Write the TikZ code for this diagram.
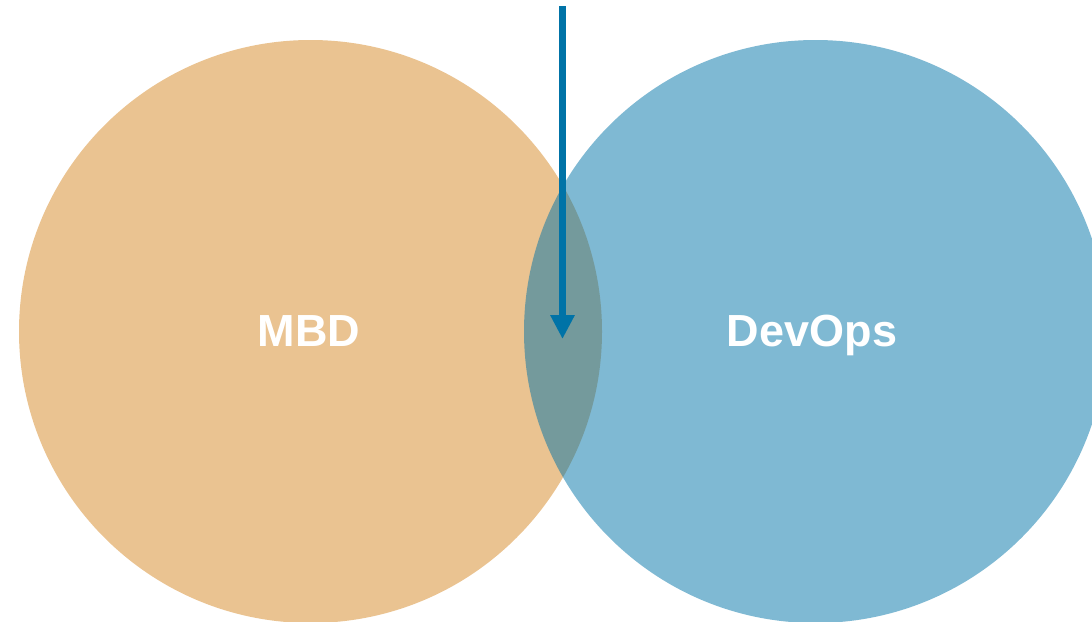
\documentclass[tikz,border=0pt]{standalone}
\usepackage{fontspec}
\setmainfont{Liberation Sans}
\usetikzlibrary{arrows.meta}
\definecolor{mbdorange}{HTML}{EAC391}
\definecolor{devblue}{HTML}{0073A7}
\begin{document}
\begin{tikzpicture}[x=1pt,y=-1pt,
  setcircle/.style={circle,minimum size=583pt,inner sep=0pt,draw=none},
  setlabel/.style={anchor=base,text=white,font=\fontsize{45}{50}\selectfont\bfseries},
  flowarrow/.style={draw=devblue,line width=7.5pt,-{Triangle[width=23pt,length=24pt]}}]
\useasboundingbox (0,0) rectangle (1092,621);
\begin{scope}
\clip (0,0) rectangle (1092,621);
\node[setcircle,fill=mbdorange] (mbd) at (310.5,331.5) {};
\node[setcircle,fill=devblue,fill opacity=0.5] (devops) at (815.5,331.5) {};
\end{scope}
\node[setlabel] (mbdlabel) at (309,346) {MBD};
\node[setlabel] (devopslabel) at (812,346) {DevOps};
\coordinate (arrowstart) at (562.5,6);
\coordinate (arrowend) at (562.5,339);
\draw[flowarrow] (arrowstart) -- (arrowend);
\end{tikzpicture}
\end{document}
